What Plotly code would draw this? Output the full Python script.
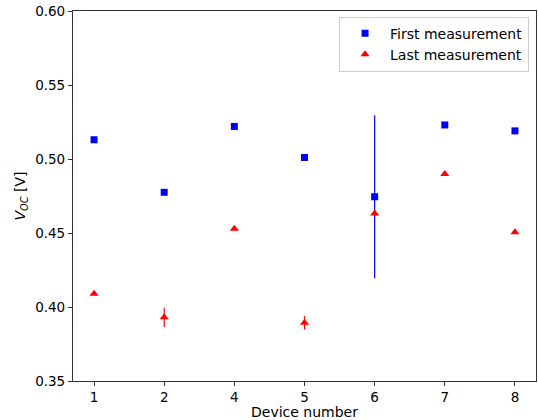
import plotly.graph_objects as go

devices = ["1", "2", "4", "5", "6", "7", "8"]
first_vals = [0.513, 0.4775, 0.522, 0.501, 0.4745, 0.523, 0.519]
first_err = [0.0, 0.0, 0.0, 0.0, 0.055, 0.0, 0.0]
last_vals = [0.409, 0.393, 0.4528, 0.3893, 0.4632, 0.4898, 0.4505]
last_err = [0.0, 0.0065, 0.0, 0.0045, 0.0, 0.0, 0.0]

font_family = "DejaVu Sans, sans-serif"

fig = go.Figure()
fig.add_trace(go.Scatter(
    x=devices, y=first_vals, mode="markers", name="First measurement",
    marker=dict(symbol="square", size=7, color="#0000ff"),
    error_y=dict(type="data", array=first_err, visible=True, color="#0000ff", thickness=1.2, width=0),
))
fig.add_trace(go.Scatter(
    x=devices, y=last_vals, mode="markers", name="Last measurement",
    marker=dict(symbol="triangle-up", size=8, color="#ff0000"),
    error_y=dict(type="data", array=last_err, visible=True, color="#ff0000", thickness=1.2, width=0),
))

axis_common = dict(
    showline=True, linecolor="#333333", linewidth=1.2, mirror=True,
    ticks="outside", ticklen=4, tickwidth=1, tickcolor="#333333",
    showgrid=False, zeroline=False, automargin=False,
    tickfont=dict(family=font_family, size=13.5, color="#000000"),
)

fig.update_layout(
    width=538, height=420,
    margin=dict(l=73, r=2, t=11, b=39),
    paper_bgcolor="white", plot_bgcolor="white",
    font=dict(family=font_family, size=14, color="#000000"),
    xaxis=dict(type="category", range=[-0.3, 6.3], **axis_common),
    yaxis=dict(range=[0.35, 0.60], tickvals=[0.35, 0.40, 0.45, 0.50, 0.55, 0.60],
               tickformat=".2f",
               title=dict(text="<i>V</i><sub><i>OC</i></sub> [V]", font=dict(size=14), standoff=6),
               **axis_common),
    legend=dict(x=0.985, y=0.985, xanchor="right", yanchor="top",
                bgcolor="rgba(255,255,255,0.8)", bordercolor="#cccccc", borderwidth=1,
                font=dict(size=14), itemwidth=40),
    showlegend=True,
    annotations=[dict(text="Device number", xref="paper", yref="paper", x=0.5, y=0,
                      xanchor="center", yanchor="top", yshift=-21, showarrow=False,
                      font=dict(family=font_family, size=14, color="#000000"))],
)

fig.write_html("out.html", config={"displayModeBar": False},
               post_script="document.body.style.margin='0';document.body.style.overflow='hidden';")
